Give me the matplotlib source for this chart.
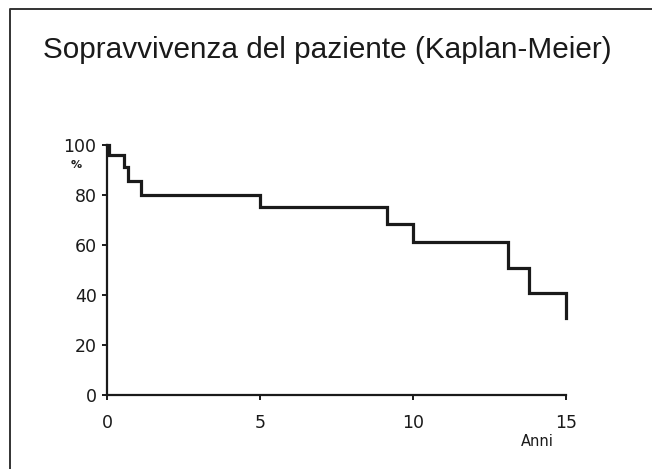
"""Kaplan-Meier patient survival step curve."""
import matplotlib
matplotlib.use('Agg')
import matplotlib.pyplot as plt
from matplotlib.lines import Line2D

# event times (years) and survival (%) after each step
times = [0, 0.05, 0.56, 0.69, 1.1, 5.0, 9.15, 10.0, 13.1, 13.8, 15.0]
surv = [100, 96, 91, 85.5, 80, 75, 68.5, 61, 51, 41, 31]
xticks = [0, 5, 10, 15]
yticks = [0, 20, 40, 60, 80, 100]

W, H = 652, 469
fig = plt.figure(figsize=(W / 100, H / 100), dpi=100)
ax = fig.add_axes([107 / W, (H - 395) / H, 459 / W, 250 / H])

ax.plot(times, surv, drawstyle='steps-post', color='#1a1a1a', lw=2.3,
        solid_joinstyle='miter', clip_on=False)
ax.set_xlim(0, 15)
ax.set_ylim(0, 100)
ax.set_xticks(xticks)
ax.set_yticks(yticks)
for s in ('top', 'right'):
    ax.spines[s].set_visible(False)
for s in ('left', 'bottom'):
    ax.spines[s].set_linewidth(1.6)
    ax.spines[s].set_color('#1a1a1a')
ax.tick_params(axis='both', direction='out', length=3.5, width=1.4,
               labelsize=12.5, colors='#1a1a1a')
ax.tick_params(axis='x', pad=10)
ax.tick_params(axis='y', pad=4)

fig.text(43 / W, 1 - 58 / H, 'Sopravvivenza del paziente (Kaplan-Meier)',
         fontsize=21.4, family='Liberation Sans', color='#1a1a1a', va='baseline')
fig.text(76 / W, 1 - 165 / H, '%', fontsize=8, fontweight='bold',
         color='#1a1a1a', ha='center', va='center')
fig.text(537 / W, 1 - 441 / H, 'Anni', fontsize=10.5, color='#1a1a1a',
         ha='center', va='center')

# frame line along top and left edge of the picture
fig.add_artist(Line2D([9.5 / W, 9.5 / W, 1], [0, 1 - 9.5 / H, 1 - 9.5 / H],
                      transform=fig.transFigure, color='#333333', lw=1.4))

fig.savefig('out.png', dpi=100)
